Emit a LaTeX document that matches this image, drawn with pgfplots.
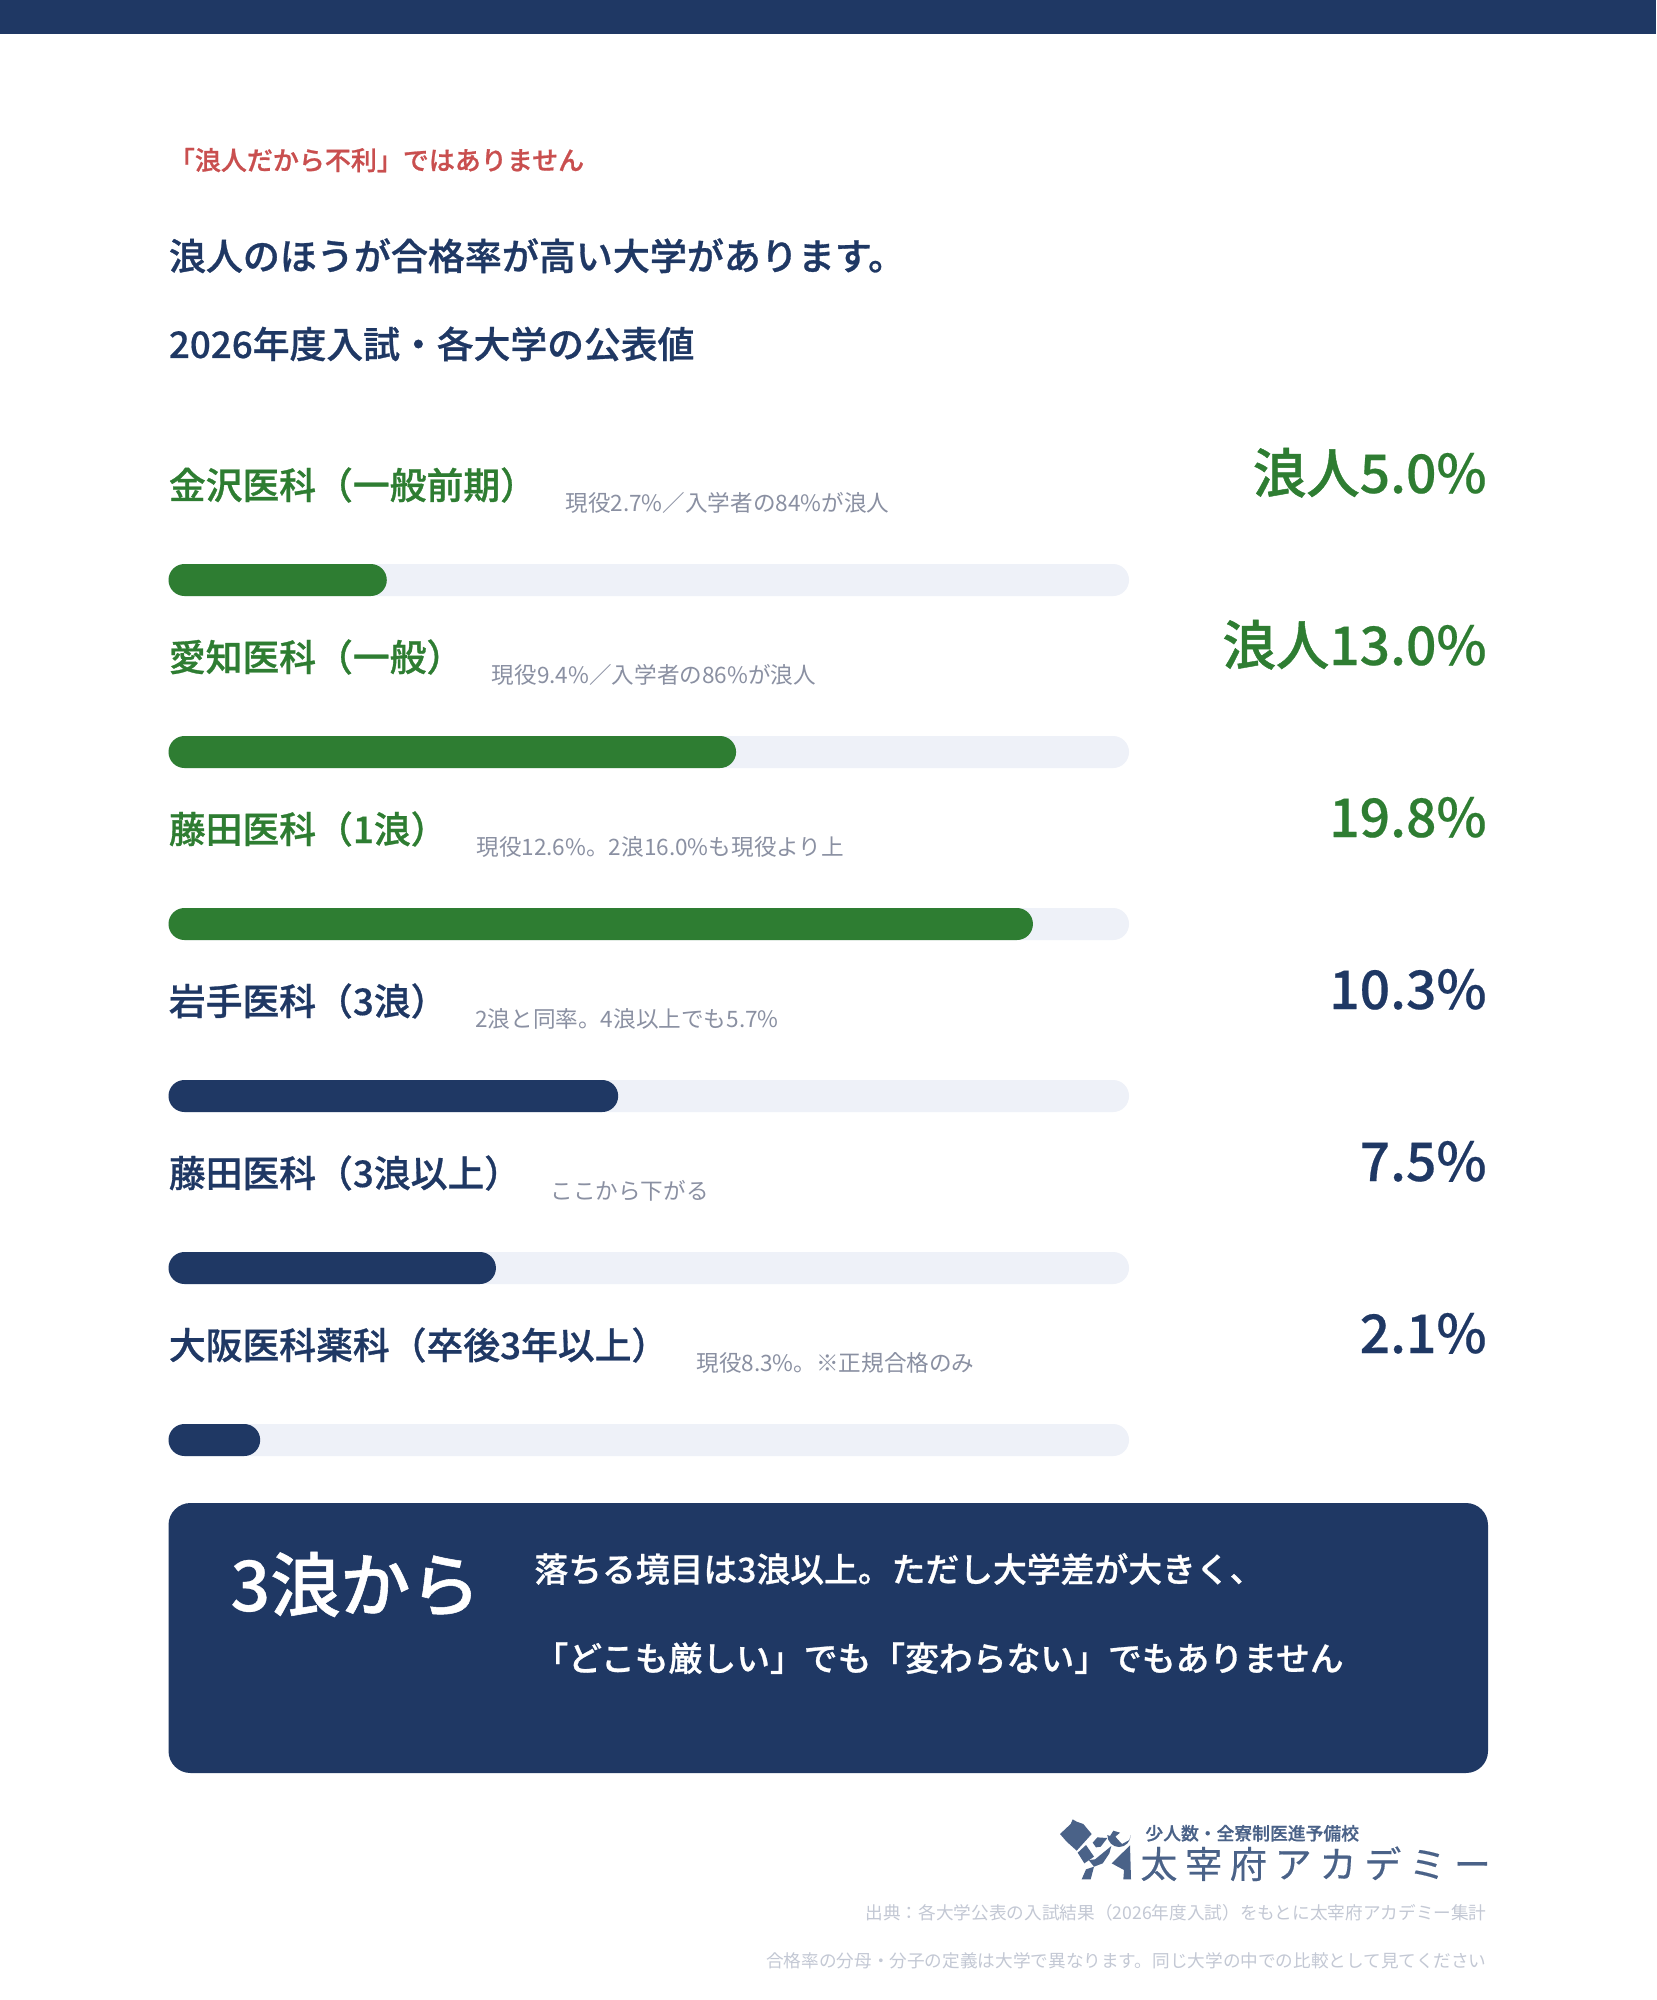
\documentclass[border=0pt]{standalone}
\usepackage{fontspec}
\usepackage{pgfplots}
\pgfplotsset{compat=1.18}
\setmainfont{Noto Sans CJK JP}
\newfontfamily\HB[FakeBold=0.8]{Noto Sans CJK JP Medium}
\newfontfamily\Dg[FakeBold=0.4]{Noto Sans CJK JP Medium}
\newcommand\D[1]{{\Dg #1}}
\definecolor{navy}{HTML}{1F3864}
\definecolor{grn}{HTML}{2E7D32}
\definecolor{track}{HTML}{EEF1F8}
\definecolor{redt}{HTML}{C94F4F}
\definecolor{greyt}{HTML}{8A90A2}
\definecolor{foot}{HTML}{C3C8D4}
\definecolor{logo}{HTML}{4A6288}
\newcommand\W[5]{\node[anchor=base west,inner sep=0pt,text=#4] at (#1,#2) {\fontsize{#3}{#3}\selectfont #5};}
\newcommand\E[5]{\node[anchor=base east,inner sep=0pt,text=#4] at (#1,#2) {\fontsize{#3}{#3}\selectfont #5};}
\begin{document}
\begin{tikzpicture}
\begin{scope}[x=0.5pt,y=-0.5pt]
\path[use as bounding box,fill=white] (0,0) rectangle (1656,2000);
\fill[navy] (0,0) rectangle (1656,34);
\end{scope}
\begin{axis}[
  at={(84.25pt,-247pt)},anchor=north west,
  scale only axis,width=480.25pt,height=516pt,
  xmin=0,xmax=22,ymin=-0.5,ymax=5.5,y dir=reverse,
  hide axis,clip=false,
  xbar,bar shift=0pt,bar width=16pt]
\addplot[fill=track,draw=none,rounded corners=8pt] coordinates {(22,0)(22,1)(22,2)(22,3)(22,4)(22,5)};
\addplot[fill=grn,draw=none,rounded corners=8pt] coordinates {(5.0,0)(13.0,1)(19.8,2)};
\addplot[fill=navy,draw=none,rounded corners=8pt] coordinates {(10.3,3)(7.5,4)(2.1,5)};
\end{axis}
\begin{scope}[x=0.5pt,y=-0.5pt]
\W{168.5}{170}{13}{redt}{\HB 「浪人だから不利」ではありません}
\W{168.5}{270}{18.5}{navy}{\HB 浪人のほうが合格率が高い大学があります。}
\W{168.5}{358}{18.4}{navy}{\D{2026}\HB 年度入試・各大学の公表値}
% rows
\W{168.5}{499}{18.4}{grn}{\HB 金沢医科（一般前期）}
\W{565}{511}{11.3}{greyt}{現役2.7\%／入学者の84\%が浪人}
\E{1487}{493}{26.7}{grn}{\HB 浪人\D{5.0\%}}
\W{168.5}{671}{18.4}{grn}{\HB 愛知医科（一般）}
\W{491.5}{683}{11.3}{greyt}{現役9.4\%／入学者の86\%が浪人}
\E{1487}{665}{26.7}{grn}{\HB 浪人\D{13.0\%}}
\W{168.5}{843}{18.4}{grn}{\HB 藤田医科（\D{1}浪）}
\W{476}{855}{11.3}{greyt}{現役12.6\%。2浪16.0\%も現役より上}
\E{1487}{837}{26.7}{grn}{\D{19.8\%}}
\W{168.5}{1015}{18.4}{navy}{\HB 岩手医科（\D{3}浪）}
\W{475}{1027}{11.3}{greyt}{2浪と同率。4浪以上でも5.7\%}
\E{1487}{1009}{26.7}{navy}{\D{10.3\%}}
\W{168.5}{1187}{18.4}{navy}{\HB 藤田医科（\D{3}浪以上）}
\W{550}{1199}{11.3}{greyt}{ここから下がる}
\E{1487}{1181}{26.7}{navy}{\D{7.5\%}}
\W{168.5}{1359}{18.4}{navy}{\HB 大阪医科薬科（卒後\D{3}年以上）}
\W{696}{1371}{11.3}{greyt}{現役8.3\%。※正規合格のみ}
\E{1487}{1353}{26.7}{navy}{\D{2.1\%}}
% callout
\fill[navy,rounded corners=11pt] (168.5,1503) rectangle (1488,1773);
\W{230}{1611}{35}{white}{\D{3}\HB 浪から}
\W{534}{1582}{16.9}{white}{\HB 落ちる境目は\D{3}浪以上。ただし大学差が大きく、}
\W{534}{1671}{16.9}{white}{\HB 「どこも厳しい」でも「変わらない」でもありません}
\end{scope}
% logo
\begin{scope}[shift={(525pt,-905pt)},x=0.16667pt,y=-0.16667pt,logo]
\fill (30,72)--(62,42)--(68,28)--(80,35)--(100,42)--(125,72)--(80,122)--(50,95)--cycle;
\fill (83,128)--(108,105)--(132,140)--(103,160)--cycle;
\fill (128,98)--(142,82)--(172,84)--(152,110)--(138,112)--cycle;
\fill (135,148)--(184,108)--(178,130)--(158,160)--(132,170)--(116,150)--cycle;
\fill (95,208)--(108,178)--(132,170)--(122,208)--cycle;
\fill (185,160)--(240,106)--(243,208)--(220,208)--(222,180)--cycle;
\fill (172,75) arc[start angle=180,end angle=0,x radius=35,y radius=36]--(238,90)--(216,102)--(196,80)--(210,68)--(190,62)--(180,78)--cycle;
\end{scope}
\begin{scope}[x=0.5pt,y=-0.5pt]
\W{1145}{1840}{8.9}{logo}{\HB 少人数・全寮制医進予備校}
\W{1140}{1878}{18.5}{logo}{\addfontfeature{LetterSpace=21,FakeBold=0.4}太宰府アカデミー}
% footer
\E{1487}{1919}{8.82}{foot}{出典：各大学公表の入試結果（2026年度入試）をもとに太宰府アカデミー集計}
\E{1487}{1967}{8.82}{foot}{合格率の分母・分子の定義は大学で異なります。同じ大学の中での比較として見てください}
\end{scope}
\end{tikzpicture}
\end{document}
